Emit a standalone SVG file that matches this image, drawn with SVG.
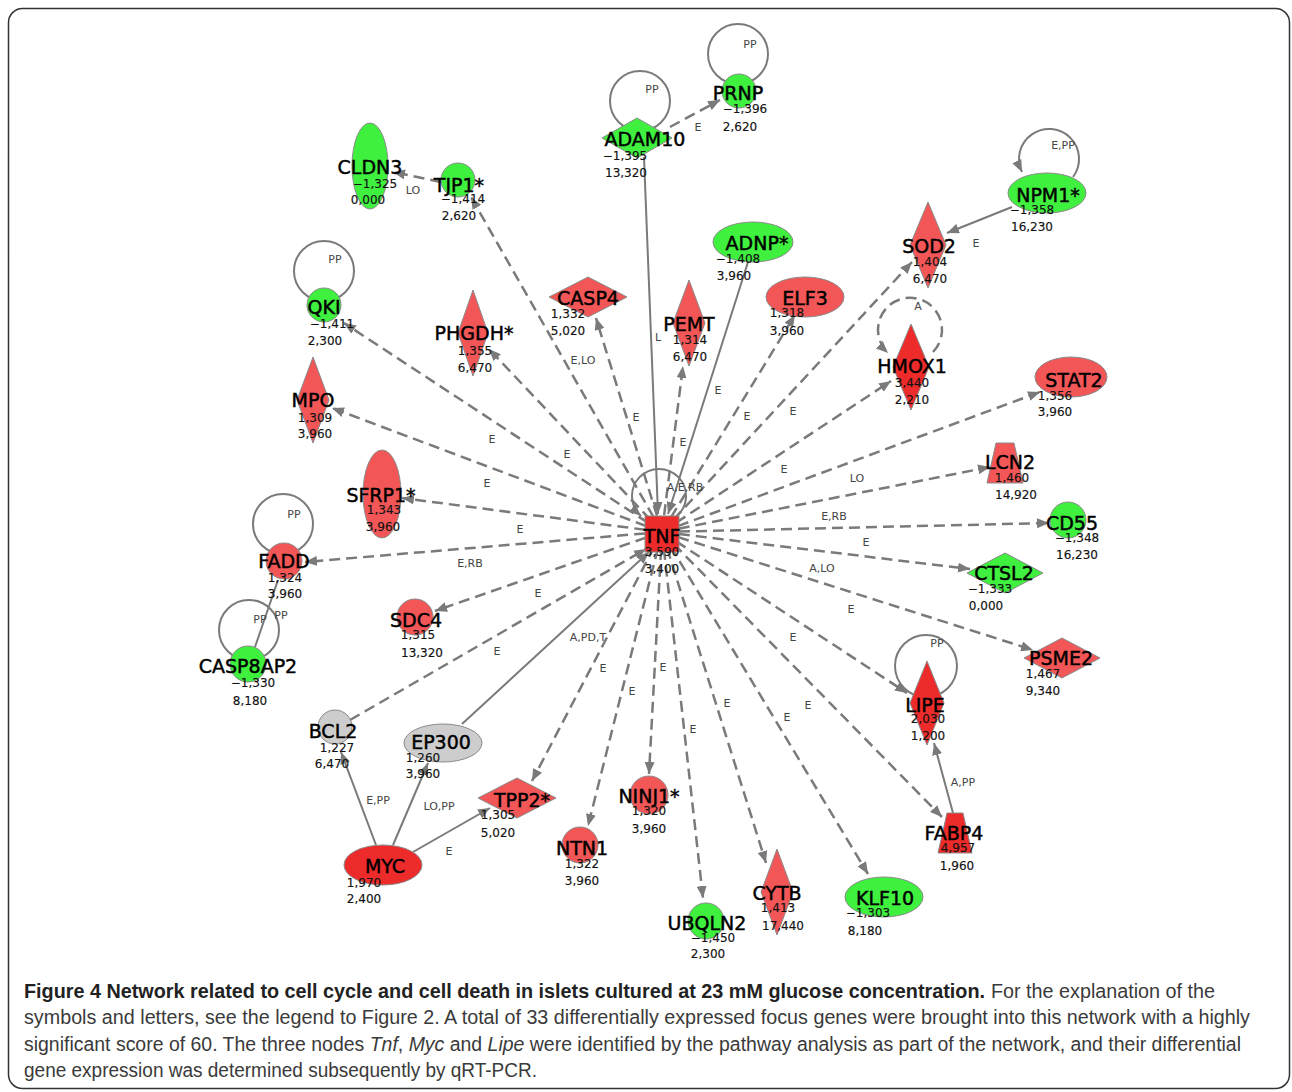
<svg xmlns="http://www.w3.org/2000/svg" width="1292" height="1092" viewBox="0 0 1292 1092">
<style>
.e{stroke:#7a7a7a;stroke-width:2.5;stroke-dasharray:11 6;fill:none}
.s{stroke:#7a7a7a;stroke-width:2;fill:none}
.lp{stroke:#7a7a7a;stroke-width:2;fill:none}
.g{fill:#3ff03f;stroke:#8a8a8a;stroke-width:1}
.r{fill:#f25656;stroke:#8a8a8a;stroke-width:1}
.R{fill:#ee2b2b;stroke:#8a8a8a;stroke-width:1}
.gr{fill:#cdcdcd;stroke:#8a8a8a;stroke-width:1}
.nl{font-family:"DejaVu Sans",sans-serif;font-size:19px;text-anchor:middle;fill:#000;stroke:#000;stroke-width:0.45}
.v{font-family:"DejaVu Sans",sans-serif;font-size:12px;text-anchor:middle;fill:#111;stroke:#111;stroke-width:0.15}
.el{font-family:"DejaVu Sans",sans-serif;font-size:11px;text-anchor:middle;fill:#444}
.cap{font-family:"Liberation Sans",sans-serif;font-size:20px;fill:#3a3a3a}
.capb{font-family:"Liberation Sans",sans-serif;font-size:20px;font-weight:bold;fill:#222}
</style>
<defs>
<marker id="a" viewBox="0 0 12 10" refX="12" refY="5" markerWidth="12" markerHeight="10" markerUnits="userSpaceOnUse" orient="auto"><path d="M0,0 L12,5 L0,10 z" fill="#7a7a7a"/></marker>
</defs>
<rect x="8.5" y="8.5" width="1281" height="1080" rx="14" fill="#fff" stroke="#333" stroke-width="1.5"/>

<g id="connectors">
<!-- TNF outgoing dashed -->
<line class="e" x1="662" y1="532" x2="471" y2="197" marker-end="url(#a)"/>
<line class="e" x1="662" y1="532" x2="344" y2="323" marker-end="url(#a)"/>
<line class="e" x1="662" y1="532" x2="489" y2="349" marker-end="url(#a)"/>
<line class="e" x1="662" y1="532" x2="596" y2="318" marker-end="url(#a)"/>
<line class="e" x1="662" y1="532" x2="683" y2="366" marker-end="url(#a)"/>
<line class="e" x1="662" y1="532" x2="795" y2="315" marker-end="url(#a)"/>
<line class="e" x1="662" y1="532" x2="912" y2="262" marker-end="url(#a)"/>
<line class="e" x1="662" y1="532" x2="891" y2="381" marker-end="url(#a)"/>
<line class="e" x1="662" y1="532" x2="1040" y2="392" marker-end="url(#a)"/>
<line class="e" x1="662" y1="532" x2="990" y2="467" marker-end="url(#a)"/>
<line class="e" x1="662" y1="532" x2="1049" y2="523" marker-end="url(#a)"/>
<line class="e" x1="662" y1="532" x2="970" y2="569" marker-end="url(#a)"/>
<line class="e" x1="662" y1="532" x2="1033" y2="650" marker-end="url(#a)"/>
<line class="e" x1="662" y1="532" x2="907" y2="693" marker-end="url(#a)"/>
<line class="e" x1="662" y1="532" x2="942" y2="817" marker-end="url(#a)"/>
<line class="e" x1="662" y1="532" x2="868" y2="874" marker-end="url(#a)"/>
<line class="e" x1="662" y1="532" x2="766" y2="863" marker-end="url(#a)"/>
<line class="e" x1="662" y1="532" x2="703" y2="898" marker-end="url(#a)"/>
<line class="e" x1="662" y1="532" x2="649" y2="774" marker-end="url(#a)"/>
<line class="e" x1="662" y1="532" x2="588" y2="826" marker-end="url(#a)"/>
<line class="e" x1="662" y1="532" x2="532" y2="781" marker-end="url(#a)"/>
<line class="e" x1="662" y1="532" x2="435" y2="611" marker-end="url(#a)"/>
<line class="e" x1="662" y1="532" x2="305" y2="562" marker-end="url(#a)"/>
<line class="e" x1="662" y1="532" x2="402" y2="498" marker-end="url(#a)"/>
<line class="e" x1="662" y1="532" x2="332" y2="408" marker-end="url(#a)"/>
<!-- incoming to TNF -->
<line class="e" x1="350" y1="720" x2="646" y2="549" marker-end="url(#a)"/>
<line class="s" x1="462" y1="724" x2="649" y2="552" marker-end="url(#a)"/>
<line class="s" x1="644" y1="157" x2="658" y2="514" marker-end="url(#a)"/>
<line class="s" x1="748" y1="262" x2="668" y2="514" marker-end="url(#a)"/>
<path class="s" d="M677,516 A27,27 0 1 0 641,516" marker-end="url(#a)"/>
<!-- other edges -->
<line class="e" x1="670" y1="127" x2="720" y2="100" marker-end="url(#a)"/>
<line class="e" x1="441" y1="182" x2="393" y2="172" marker-end="url(#a)"/>
<line class="s" x1="1012" y1="207" x2="947" y2="233" marker-end="url(#a)"/>
<line class="s" x1="953" y1="813" x2="934" y2="743" marker-end="url(#a)"/>
<line class="s" x1="278" y1="580" x2="255" y2="647"/>
<line class="s" x1="376" y1="845" x2="341" y2="752" marker-end="url(#a)"/>
<line class="s" x1="393" y1="845" x2="428" y2="763" marker-end="url(#a)"/>
<line class="s" x1="413" y1="852" x2="490" y2="808" marker-end="url(#a)"/>
<!-- self loops -->
<circle class="lp" cx="640" cy="101" r="30"/>
<circle class="lp" cx="738" cy="54" r="30"/>
<circle class="lp" cx="324" cy="271" r="30"/>
<circle class="lp" cx="283" cy="524" r="30"/>
<circle class="lp" cx="249" cy="630" r="30"/>
<circle class="lp" cx="926" cy="666" r="31"/>
<path class="lp" d="M1073,177 A30,30 0 1 0 1022,172" marker-end="url(#a)"/>
<path class="e" d="M933,352 A32,32 0 1 0 888,353" marker-end="url(#a)"/>
<!-- edge labels -->
<text class="el" x="652" y="93">PP</text>
<text class="el" x="750" y="48">PP</text>
<text class="el" x="698" y="131">E</text>
<text class="el" x="1063" y="149">E,PP</text>
<text class="el" x="976" y="247">E</text>
<text class="el" x="413" y="194">LO</text>
<text class="el" x="335" y="263">PP</text>
<text class="el" x="658" y="341">L</text>
<text class="el" x="583" y="364">E,LO</text>
<text class="el" x="636" y="421">E</text>
<text class="el" x="492" y="443">E</text>
<text class="el" x="567" y="458">E</text>
<text class="el" x="718" y="394">E</text>
<text class="el" x="747" y="420">E</text>
<text class="el" x="793" y="415">E</text>
<text class="el" x="918" y="310">A</text>
<text class="el" x="784" y="473">E</text>
<text class="el" x="857" y="482">LO</text>
<text class="el" x="683" y="446">E</text>
<text class="el" x="685" y="491">A,E,RB</text>
<text class="el" x="834" y="520">E,RB</text>
<text class="el" x="866" y="546">E</text>
<text class="el" x="822" y="572">A,LO</text>
<text class="el" x="851" y="613">E</text>
<text class="el" x="793" y="641">E</text>
<text class="el" x="487" y="487">E</text>
<text class="el" x="520" y="533">E</text>
<text class="el" x="470" y="567">E,RB</text>
<text class="el" x="538" y="597">E</text>
<text class="el" x="497" y="655">E</text>
<text class="el" x="588" y="641">A,PD,T</text>
<text class="el" x="603" y="672">E</text>
<text class="el" x="632" y="695">E</text>
<text class="el" x="663" y="671">E</text>
<text class="el" x="727" y="707">E</text>
<text class="el" x="808" y="709">E</text>
<text class="el" x="693" y="733">E</text>
<text class="el" x="787" y="721">E</text>
<text class="el" x="294" y="518">PP</text>
<text class="el" x="260" y="623">PP</text>
<text class="el" x="281" y="619">PP</text>
<text class="el" x="378" y="804">E,PP</text>
<text class="el" x="439" y="810">LO,PP</text>
<text class="el" x="449" y="855">E</text>
<text class="el" x="963" y="786">A,PP</text>
<text class="el" x="937" y="647">PP</text>
</g>

<g id="TNF"><rect class="R" x="645" y="516" width="34" height="36"/><text class="nl" x="662" y="543">TNF</text><text class="v" x="662" y="556" fill="#900" stroke="#900">3,590</text><text class="v" x="662" y="573">3,400</text></g>
<g id="CLDN3"><ellipse class="g" cx="370" cy="166" rx="18" ry="43"/><text class="nl" x="370" y="174">CLDN3</text><text class="v" x="375" y="188">−1,325</text><text class="v" x="368" y="204">0,000</text></g>
<g id="TJP1"><circle class="g" cx="458" cy="180" r="17"/><text class="nl" x="459" y="192">TJP1*</text><text class="v" x="463" y="203">−1,414</text><text class="v" x="459" y="220">2,620</text></g>
<g id="ADAM10"><polygon class="g" points="637,118 672,138 637,158 602,138"/><text class="nl" x="645" y="146">ADAM10</text><text class="v" x="625" y="160">−1,395</text><text class="v" x="626" y="177">13,320</text></g>
<g id="PRNP"><circle class="g" cx="739" cy="91" r="17"/><text class="nl" x="738" y="100">PRNP</text><text class="v" x="745" y="113">−1,396</text><text class="v" x="740" y="131">2,620</text></g>
<g id="NPM1"><ellipse class="g" cx="1047" cy="193" rx="39" ry="20"/><text class="nl" x="1048" y="202">NPM1*</text><text class="v" x="1032" y="214">−1,358</text><text class="v" x="1032" y="231">16,230</text></g>
<g id="SOD2"><polygon class="r" points="928,202 946,245 928,288 910,245"/><text class="nl" x="929" y="253">SOD2</text><text class="v" x="930" y="266">1,404</text><text class="v" x="930" y="283">6,470</text></g>
<g id="ADNP"><ellipse class="g" cx="753" cy="242" rx="40" ry="20"/><text class="nl" x="757" y="250">ADNP*</text><text class="v" x="738" y="263">−1,408</text><text class="v" x="734" y="280">3,960</text></g>
<g id="ELF3"><ellipse class="r" cx="805" cy="297" rx="39" ry="20"/><text class="nl" x="805" y="305">ELF3</text><text class="v" x="787" y="317">1,318</text><text class="v" x="787" y="335">3,960</text></g>
<g id="PEMT"><polygon class="r" points="689,280 705,323 689,366 673,323"/><text class="nl" x="689" y="331">PEMT</text><text class="v" x="690" y="344">1,314</text><text class="v" x="690" y="361">6,470</text></g>
<g id="HMOX1"><polygon class="R" points="911,324 929,367 911,410 893,367"/><text class="nl" x="912" y="373">HMOX1</text><text class="v" x="912" y="387">3,440</text><text class="v" x="912" y="404">2,210</text></g>
<g id="STAT2"><ellipse class="r" cx="1071" cy="377" rx="36" ry="20"/><text class="nl" x="1074" y="387">STAT2</text><text class="v" x="1055" y="400">1,356</text><text class="v" x="1055" y="416">3,960</text></g>
<g id="LCN2"><polygon class="r" points="996,443 1014,443 1023,483 987,483"/><text class="nl" x="1010" y="469">LCN2</text><text class="v" x="1012" y="482">1,460</text><text class="v" x="1016" y="499">14,920</text></g>
<g id="CD55"><circle class="g" cx="1068" cy="520" r="18"/><text class="nl" x="1072" y="530">CD55</text><text class="v" x="1077" y="542">−1,348</text><text class="v" x="1077" y="559">16,230</text></g>
<g id="CTSL2"><polygon class="g" points="1005,553 1043,573 1005,593 967,573"/><text class="nl" x="1004" y="580">CTSL2</text><text class="v" x="990" y="593">−1,333</text><text class="v" x="986" y="610">0,000</text></g>
<g id="PSME2"><polygon class="r" points="1062,638 1100,658 1062,678 1024,658"/><text class="nl" x="1061" y="665">PSME2</text><text class="v" x="1043" y="678">1,467</text><text class="v" x="1043" y="695">9,340</text></g>
<g id="LIPE"><polygon class="R" points="927,661 944,703 927,745 910,703"/><text class="nl" x="925" y="712">LIPE</text><text class="v" x="928" y="723">2,030</text><text class="v" x="928" y="740">1,200</text></g>
<g id="FABP4"><polygon class="R" points="947,813 963,813 972,853 938,853"/><text class="nl" x="954" y="840">FABP4</text><text class="v" x="958" y="852">4,957</text><text class="v" x="957" y="870">1,960</text></g>
<g id="KLF10"><ellipse class="g" cx="884" cy="897" rx="39" ry="20"/><text class="nl" x="885" y="905">KLF10</text><text class="v" x="868" y="917">−1,303</text><text class="v" x="865" y="935">8,180</text></g>
<g id="CYTB"><polygon class="r" points="777,849 793,892 777,935 761,892"/><text class="nl" x="777" y="900">CYTB</text><text class="v" x="778" y="912">1,413</text><text class="v" x="783" y="930">17,440</text></g>
<g id="UBQLN2"><circle class="g" cx="706" cy="921" r="18"/><text class="nl" x="707" y="930">UBQLN2</text><text class="v" x="713" y="942">−1,450</text><text class="v" x="708" y="958">2,300</text></g>
<g id="NINJ1"><circle class="r" cx="649" cy="795" r="19"/><text class="nl" x="649" y="803">NINJ1*</text><text class="v" x="649" y="815">1,320</text><text class="v" x="649" y="833">3,960</text></g>
<g id="NTN1"><circle class="r" cx="580" cy="845" r="18"/><text class="nl" x="582" y="855">NTN1</text><text class="v" x="582" y="868">1,322</text><text class="v" x="582" y="885">3,960</text></g>
<g id="TPP2"><polygon class="r" points="517,778 556,798 517,818 478,798"/><text class="nl" x="522" y="807">TPP2*</text><text class="v" x="498" y="819">1,305</text><text class="v" x="498" y="837">5,020</text></g>
<g id="MYC"><ellipse class="R" cx="383" cy="865" rx="39" ry="20"/><text class="nl" x="385" y="873">MYC</text><text class="v" x="364" y="887">1,970</text><text class="v" x="364" y="903">2,400</text></g>
<g id="EP300"><ellipse class="gr" cx="443" cy="743" rx="39" ry="19"/><text class="nl" x="441" y="749">EP300</text><text class="v" x="423" y="762">1,260</text><text class="v" x="423" y="778">3,960</text></g>
<g id="BCL2"><circle class="gr" cx="335" cy="727" r="17"/><text class="nl" x="333" y="738">BCL2</text><text class="v" x="337" y="752">1,227</text><text class="v" x="332" y="768">6,470</text></g>
<g id="SDC4"><circle class="r" cx="415" cy="617" r="18"/><text class="nl" x="416" y="627">SDC4</text><text class="v" x="418" y="639">1,315</text><text class="v" x="422" y="657">13,320</text></g>
<g id="FADD"><circle class="r" cx="284" cy="561" r="18"/><text class="nl" x="284" y="568">FADD</text><text class="v" x="285" y="582">1,324</text><text class="v" x="285" y="598">3,960</text></g>
<g id="CASP8AP2"><circle class="g" cx="248" cy="664" r="18"/><text class="nl" x="248" y="673">CASP8AP2</text><text class="v" x="253" y="687">−1,330</text><text class="v" x="250" y="705">8,180</text></g>
<g id="SFRP1"><ellipse class="r" cx="382" cy="494" rx="19" ry="44"/><text class="nl" x="381" y="502">SFRP1*</text><text class="v" x="384" y="514">1,343</text><text class="v" x="383" y="531">3,960</text></g>
<g id="QKI"><circle class="g" cx="324" cy="305" r="17"/><text class="nl" x="324" y="314">QKI</text><text class="v" x="332" y="328">−1,411</text><text class="v" x="325" y="345">2,300</text></g>
<g id="MPO"><polygon class="r" points="313,357 329,400 313,443 297,400"/><text class="nl" x="313" y="407">MPO</text><text class="v" x="315" y="422">1,309</text><text class="v" x="315" y="438">3,960</text></g>
<g id="PHGDH"><polygon class="r" points="473,290 488,333 473,376 458,333"/><text class="nl" x="474" y="340">PHGDH*</text><text class="v" x="475" y="355">1,355</text><text class="v" x="475" y="372">6,470</text></g>
<g id="CASP4"><polygon class="r" points="588,277 627,297 588,317 549,297"/><text class="nl" x="588" y="305">CASP4</text><text class="v" x="568" y="318">1,332</text><text class="v" x="568" y="335">5,020</text></g>

<g id="caption">
<text class="capb" x="24" y="998" textLength="961" lengthAdjust="spacingAndGlyphs">Figure 4 Network related to cell cycle and cell death in islets cultured at 23 mM glucose concentration.</text>
<text class="cap" x="991" y="998" textLength="224" lengthAdjust="spacingAndGlyphs">For the explanation of the</text>
<text class="cap" x="24" y="1024" textLength="1226" lengthAdjust="spacingAndGlyphs">symbols and letters, see the legend to Figure 2. A total of 33 differentially expressed focus genes were brought into this network with a highly</text>
<text class="cap" x="24" y="1051" textLength="1217" lengthAdjust="spacingAndGlyphs">significant score of 60. The three nodes <tspan font-style="italic">Tnf</tspan>, <tspan font-style="italic">Myc</tspan> and <tspan font-style="italic">Lipe</tspan> were identified by the pathway analysis as part of the network, and their differential</text>
<text class="cap" x="24" y="1077" textLength="513" lengthAdjust="spacingAndGlyphs">gene expression was determined subsequently by qRT-PCR.</text>
</g>
</svg>
